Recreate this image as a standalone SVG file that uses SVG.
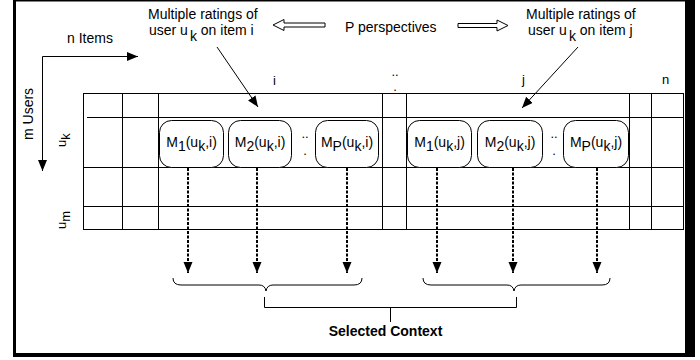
<svg xmlns="http://www.w3.org/2000/svg" width="700" height="360" viewBox="0 0 700 360">
<style>
.t{font-family:"Liberation Sans",Arial,sans-serif;font-size:14px;fill:#000}
.s{font-size:13px}
.m{font-size:14px}
.bd{font-weight:bold}
.g{stroke:#000;stroke-width:1;fill:none}
.bx{stroke:#000;stroke-width:1;fill:#fff}
.d{stroke:#000;stroke-width:2;stroke-dasharray:3 1.5;fill:none}
</style>
<defs>
<marker id="ah" markerUnits="userSpaceOnUse" markerWidth="12" markerHeight="10" refX="11" refY="4.5" orient="auto">
<path d="M0,0 L11,4.5 L0,9 Z" fill="#000"/>
</marker>
</defs>
<rect x="0" y="0" width="700" height="360" fill="#fff"/>
<rect x="13" y="0" width="682" height="357" fill="#000"/>
<rect x="16" y="1.5" width="669" height="351.5" fill="#fff"/>

<g id="labels">
<text class="t" x="148" y="19">Multiple ratings of</text>
<text class="t" x="149" y="35">user u<tspan dx="2" dy="6">k</tspan><tspan dy="-6"> on item i</tspan></text>
<text class="t" x="526" y="19">Multiple ratings of</text>
<text class="t" x="528" y="35">user u<tspan dx="2" dy="6">k</tspan><tspan dy="-6"> on item j</tspan></text>
<text class="t" x="345" y="32">P perspectives</text>
<text class="t" x="67" y="43">n Items</text>
<text class="t" transform="translate(33,140) rotate(-90)">m Users</text>
<text class="t s" x="273" y="85">i</text>
<text class="t s" x="522" y="84">j</text>
<text class="t s" x="662" y="84">n</text>
<text class="t s" x="395" y="76" text-anchor="middle">..</text>
<text class="t s" x="395" y="91" text-anchor="middle">.</text>
<text class="t s" transform="translate(66,147) rotate(-90)">u<tspan dy="4">k</tspan></text>
<text class="t s" transform="translate(66,229) rotate(-90)">u<tspan dy="4">m</tspan></text>
<text class="t bd" x="385.5" y="336" text-anchor="middle">Selected Context</text>
</g>

<g id="perspective-arrows">
<path class="bx" d="M273,25 L284,19.5 L284,23 L325,23 L325,27 L284,27 L284,30.5 Z"/>
<path class="bx" d="M508,25.5 L497,20 L497,23.5 L458,23.5 L458,27.5 L497,27.5 L497,31 Z"/>
</g>

<g id="grid">
<rect class="g" x="83.5" y="93.5" width="600" height="136"/>
<path class="g" d="M87,117.5 H683.5 M83.5,167.5 H683.5 M83.5,206.5 H683.5 M122.5,93.5 V229.5 M158.5,93.5 V229.5 M382.5,93.5 V229.5 M406.5,93.5 V229.5 M629.5,93.5 V229.5 M651.5,93.5 V229.5"/>
</g>

<g id="box-M1-i"><rect class="bx" x="159.5" y="120.5" width="64" height="47" rx="12"/><text class="t m" x="191.5" y="147" text-anchor="middle">M<tspan dy="4">1</tspan><tspan dy="-4">(u</tspan><tspan dy="4">k</tspan><tspan dy="-4">,i)</tspan></text></g>
<g id="box-M2-i"><rect class="bx" x="228.5" y="120.5" width="63" height="47" rx="12"/><text class="t m" x="260" y="147" text-anchor="middle">M<tspan dy="4">2</tspan><tspan dy="-4">(u</tspan><tspan dy="4">k</tspan><tspan dy="-4">,i)</tspan></text></g>
<g id="box-MP-i"><rect class="bx" x="315.5" y="120.5" width="63" height="47" rx="12"/><text class="t m" x="347" y="147" text-anchor="middle">M<tspan dy="4">P</tspan><tspan dy="-4">(u</tspan><tspan dy="4">k</tspan><tspan dy="-4">,i)</tspan></text></g>
<g id="box-M1-j"><rect class="bx" x="407.5" y="120.5" width="64" height="47" rx="12"/><text class="t m" x="439.5" y="147" text-anchor="middle">M<tspan dy="4">1</tspan><tspan dy="-4">(u</tspan><tspan dy="4">k</tspan><tspan dy="-4">,j)</tspan></text></g>
<g id="box-M2-j"><rect class="bx" x="477.5" y="120.5" width="65" height="47" rx="12"/><text class="t m" x="510" y="147" text-anchor="middle">M<tspan dy="4">2</tspan><tspan dy="-4">(u</tspan><tspan dy="4">k</tspan><tspan dy="-4">,j)</tspan></text></g>
<g id="box-MP-j"><rect class="bx" x="563.5" y="120.5" width="65" height="47" rx="12"/><text class="t m" x="596" y="147" text-anchor="middle">M<tspan dy="4">P</tspan><tspan dy="-4">(u</tspan><tspan dy="4">k</tspan><tspan dy="-4">,j)</tspan></text></g>

<g id="row-dots">
<text class="t s" x="305" y="138" text-anchor="middle">..</text>
<text class="t s" x="305" y="155" text-anchor="middle">.</text>
<text class="t s" x="554" y="138" text-anchor="middle">..</text>
<text class="t s" x="554" y="155" text-anchor="middle">.</text>
</g>

<g id="connectors">
<path class="g" d="M42.5,56.5 H138" marker-end="url(#ah)"/>
<path class="g" d="M42.5,56.5 V171" marker-end="url(#ah)"/>
<path class="g" d="M217,47 L258,107" marker-end="url(#ah)"/>
<path class="g" d="M578,47 L522,108" marker-end="url(#ah)"/>
<path class="d" d="M188,168 V273" marker-end="url(#ah)"/>
<path class="d" d="M257,168 V273" marker-end="url(#ah)"/>
<path class="d" d="M347,168 V273" marker-end="url(#ah)"/>
<path class="d" d="M437,168 V273" marker-end="url(#ah)"/>
<path class="d" d="M513,168 V273" marker-end="url(#ah)"/>
<path class="d" d="M597,168 V273" marker-end="url(#ah)"/>
<path class="g" d="M173,278 Q173,285 181,285 L259,285 Q265,285 266,291 Q267,285 273,285 L354,285 Q362,285 362,278"/>
<path class="g" d="M423,278 Q423,285 431,285 L507,285 Q513,285 514,291 Q515,285 521,285 L602,285 Q610,285 610,278"/>
<path class="g" d="M264.5,297 V307.5 H516.5 V297 M390.5,307.5 V322"/>
</g>
</svg>
